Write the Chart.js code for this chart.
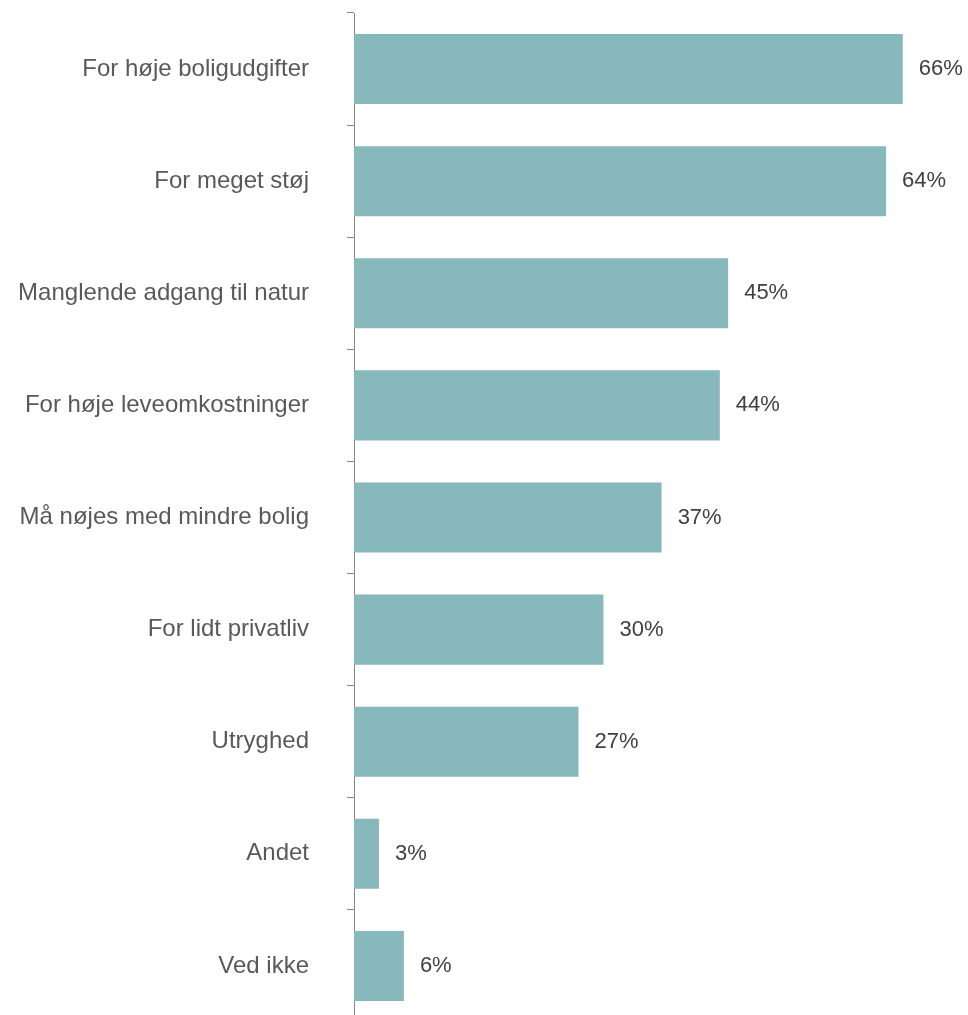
<!DOCTYPE html>
<html>
<head>
<meta charset="utf-8">
<script src="https://cdn.jsdelivr.net/npm/chart.js@4/dist/chart.umd.min.js"></script>
<style>
  html, body { margin: 0; padding: 0; background: #fff; overflow: hidden; }
  #wrap { width: 968px; height: 1015px; overflow: hidden; }
</style>
</head>
<body>
<div id="wrap"><canvas id="chart" width="968" height="1022"></canvas></div>
<script>
// Data
const kategorier = [
    "For høje boligudgifter",
    "For meget støj",
    "Manglende adgang til natur",
    "For høje leveomkostninger",
    "Må nøjes med mindre bolig",
    "For lidt privatliv",
    "Utryghed",
    "Andet",
    "Ved ikke"
];
const andele = [66, 64, 45, 44, 37, 30, 27, 3, 6];

const FONT = "'Liberation Sans', Arial, sans-serif";

// Skriv procenttal til højre for hver bjælke
const vaerdiLabels = {
    id: 'vaerdiLabels',
    afterDatasetsDraw(chart) {
        const ctx = chart.ctx;
        const meta = chart.getDatasetMeta(0);
        ctx.save();
        ctx.font = "22px " + FONT;
        ctx.fillStyle = '#404040';
        ctx.textBaseline = 'middle';
        ctx.textAlign = 'left';
        meta.data.forEach((bar, i) => {
            ctx.fillText(andele[i] + '%', bar.x + 16, bar.y);
        });
        ctx.restore();
    }
};

new Chart(document.getElementById('chart'), {
    type: 'bar',
    data: {
        labels: kategorier,
        datasets: [{
            data: andele,
            backgroundColor: '#87b8bc',
            borderWidth: 0,
            barPercentage: 0.625,
            categoryPercentage: 1
        }]
    },
    options: {
        indexAxis: 'y',
        responsive: false,
        animation: false,
        layout: { padding: { top: 13, right: 32, bottom: 0, left: 0 } },
        plugins: { legend: { display: false }, tooltip: { enabled: false } },
        scales: {
            x: { display: false, min: 0, max: 70 },
            y: {
                afterFit: (scale) => {
                    scale.width = 354;
                    // ingen ekstra luft over/under aksen
                    scale.paddingTop = 0;
                    scale.paddingBottom = 0;
                },
                border: { display: true, color: '#868686', width: 1 },
                grid: {
                    offset: true,
                    drawOnChartArea: false,
                    drawTicks: true,
                    tickLength: 7,
                    color: '#868686'
                },
                ticks: {
                    padding: 38,
                    color: '#595959',
                    font: { family: FONT, size: 24 }
                }
            }
        }
    },
    plugins: [vaerdiLabels]
});
</script>
</body>
</html>
